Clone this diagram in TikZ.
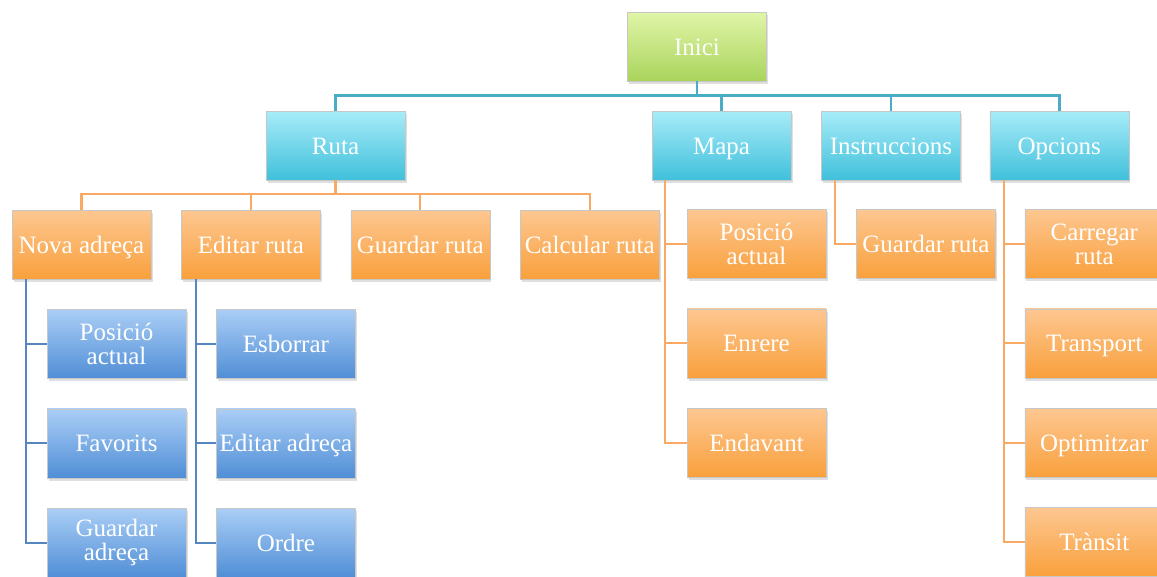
\documentclass[tikz,border=0pt]{standalone}
\usepackage{fontspec}
\setmainfont{Liberation Serif}
\usetikzlibrary{positioning, shadows}
\definecolor{greentop}{RGB}{224, 245, 168}
\definecolor{greenbot}{RGB}{170, 212, 92}
\definecolor{cyantop}{RGB}{168, 236, 248}
\definecolor{cyanbot}{RGB}{64, 192, 219}
\definecolor{orangetop}{RGB}{253, 199, 145}
\definecolor{orangebot}{RGB}{249, 160, 60}
\definecolor{bluetop}{RGB}{170, 206, 246}
\definecolor{bluebot}{RGB}{80, 142, 214}
\definecolor{tealline}{RGB}{75, 172, 198}
\definecolor{orangeline}{RGB}{248, 170, 100}
\definecolor{blueline}{RGB}{84, 134, 192}

\begin{document}
\begin{tikzpicture}[
        x=1pt, y=-1pt,
        node distance=30pt,
        base/.style={rectangle, draw=black!22, minimum width=139pt, minimum height=69pt, inner sep=1pt, text=white, align=center, text height=17pt, text depth=0pt, font=\fontsize{25}{24}\selectfont, drop shadow={shadow xshift=1.5pt, shadow yshift=-3pt, opacity=0.25}},
        twoline/.style={text height=, text depth=},
        startbox/.style={base, top color=greentop, bottom color=greenbot},
        menubox/.style={base, top color=cyantop, bottom color=cyanbot},
        itembox/.style={base, top color=orangetop, bottom color=orangebot},
        subbox/.style={base, top color=bluetop, bottom color=bluebot},
        tline/.style={draw=tealline, line width=2.5pt},
        oline/.style={draw=orangeline, line width=2.2pt},
        bline/.style={draw=blueline, line width=2.2pt},
    ]
    \useasboundingbox (0,0) rectangle (1157,576);

    % Inici
    \node[startbox] (inici) at (697,46.5) {Inici};

    % Menus
    \node[menubox] (ruta) at (335.5,145.5) {Ruta};
    \node[menubox] (mapa) at (721.5,145.5) {Mapa};
    \node[menubox, right=30pt of mapa] (instr) {Instruccions};
    \node[menubox, right=29pt of instr] (opcions) {Opcions};

    % Ruta
    \node[itembox] (nova) at (81.5,244.5) {Nova adreça};
    \node[itembox, right=30pt of nova] (editar) {Editar ruta};
    \node[itembox, right=30pt of editar] (guardar) {Guardar ruta};
    \node[itembox, right=30pt of guardar] (calcular) {Calcular ruta};

    % Nova adreca
    \node[subbox, twoline, below=30pt of nova, xshift=35pt] (npos) {Posició\\actual};
    \node[subbox, below=30pt of npos] (nfav) {Favorits};
    \node[subbox, twoline, below=30pt of nfav] (nguard) {Guardar\\adreça};

    % Editar ruta
    \node[subbox, below=30pt of editar, xshift=35pt] (eesb) {Esborrar};
    \node[subbox, below=30pt of eesb] (eedit) {Editar adreça};
    \node[subbox, below=30pt of eedit] (eord) {Ordre};

    % Mapa
    \node[itembox, twoline, below=29pt of mapa, xshift=35pt] (mpos) {Posició\\actual};
    \node[itembox, below=30pt of mpos] (menr) {Enrere};
    \node[itembox, below=30pt of menr] (mend) {Endavant};

    % Instruccions
    \node[itembox, below=29pt of instr, xshift=35pt] (iguard) {Guardar ruta};

    % Opcions
    \node[itembox, twoline, below=29pt of opcions, xshift=35pt] (ocarr) {Carregar\\ruta};
    \node[itembox, below=30pt of ocarr] (otrans) {Transport};
    \node[itembox, below=30pt of otrans] (oopt) {Optimitzar};
    \node[itembox, below=30pt of oopt] (otran) {Trànsit};

    % Conexions
    \draw[tline] (inici.south) -- ++(0,14.5) -| (ruta.north);
    \draw[tline] (inici.south) -- ++(0,14.5) -| (mapa.north);
    \draw[tline] (inici.south) -- ++(0,14.5) -| (instr.north);
    \draw[tline] (inici.south) -- ++(0,14.5) -| (opcions.north);

    \draw[oline] (ruta.south) -- ++(0,14) -| (nova.north);
    \draw[oline] (ruta.south) -- ++(0,14) -| (editar.north);
    \draw[oline] (ruta.south) -- ++(0,14) -| (guardar.north);
    \draw[oline] (ruta.south) -- ++(0,14) -| (calcular.north);

    \draw[bline] ([xshift=14pt]nova.south west) |- (npos.west);
    \draw[bline] ([xshift=14pt]nova.south west) |- (nfav.west);
    \draw[bline] ([xshift=14pt]nova.south west) |- (nguard.west);
    \draw[bline] ([xshift=15pt]editar.south west) |- (eesb.west);
    \draw[bline] ([xshift=15pt]editar.south west) |- (eedit.west);
    \draw[bline] ([xshift=15pt]editar.south west) |- (eord.west);

    \draw[oline] ([xshift=13pt]mapa.south west) |- (mpos.west);
    \draw[oline] ([xshift=13pt]mapa.south west) |- (menr.west);
    \draw[oline] ([xshift=13pt]mapa.south west) |- (mend.west);
    \draw[oline] ([xshift=14pt]instr.south west) |- (iguard.west);
    \draw[oline] ([xshift=14pt]opcions.south west) |- (ocarr.west);
    \draw[oline] ([xshift=14pt]opcions.south west) |- (otrans.west);
    \draw[oline] ([xshift=14pt]opcions.south west) |- (oopt.west);
    \draw[oline] ([xshift=14pt]opcions.south west) |- (otran.west);

    \end{tikzpicture}
\end{document}
